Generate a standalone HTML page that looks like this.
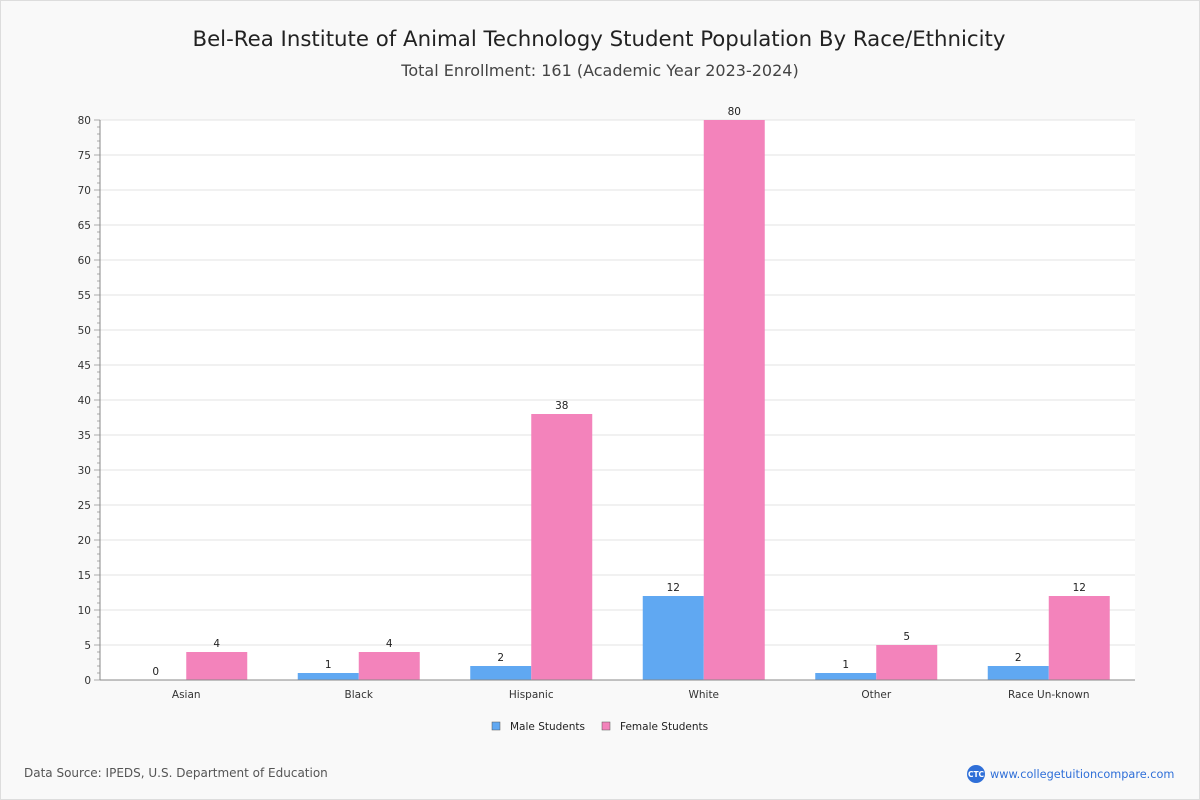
<!DOCTYPE html>
<html><head><meta charset="utf-8"><style>
body{margin:0;background:#f9f9f9;font-family:"DejaVu Sans","Liberation Sans",sans-serif;}
#wrap{position:relative;width:1198px;height:798px;border:1px solid #ddd;background:#f9f9f9;}
</style></head><body>
<div id="wrap">
<svg id="chart" width="1200" height="800" style="position:absolute;left:-1px;top:-1px">
<text x="599" y="46" text-anchor="middle" font-size="21.3" fill="#222">Bel-Rea Institute of Animal Technology Student Population By Race/Ethnicity</text>
<text x="600" y="76" text-anchor="middle" font-size="16" fill="#444">Total Enrollment: 161 (Academic Year 2023-2024)</text>
<rect x="100" y="120" width="1035" height="560" fill="#fff"/>
<g id="grid"></g><g id="bars"></g><g id="axes"></g>
<g>
<rect x="492" y="722" width="8" height="8" fill="#60a8f2" stroke="#555" stroke-width="0.5"/>
<text x="510" y="730" font-size="10.5" fill="#222">Male Students</text>
<rect x="602" y="722" width="8" height="8" fill="#f383bb" stroke="#555" stroke-width="0.5"/>
<text x="620" y="730" font-size="10.5" fill="#222">Female Students</text>
</g>
<text x="24" y="777" font-size="12" fill="#555">Data Source: IPEDS, U.S. Department of Education</text>
<circle cx="976" cy="774" r="9" fill="#2f6fd8"/>
<text x="976" y="777" text-anchor="middle" font-size="7.5" fill="#fff" font-weight="bold">CTC</text>
<text x="990" y="778" font-size="11.3" fill="#2f6fd8">www.collegetuitioncompare.com</text>
</svg>
</div>
<script>
const categories=["Asian","Black","Hispanic","White","Other","Race Un-known"];
const maleValues=[0,1,2,12,1,2];
const femaleValues=[4,4,38,80,5,12];
const yTicks=[0,5,10,15,20,25,30,35,40,45,50,55,60,65,70,75,80];
const NS="http://www.w3.org/2000/svg";
const X0=100,X1=1135,Y0=680,Y1=120,YMAX=80;
const y=v=>Y0-(v/YMAX)*(Y0-Y1);
const band=(X1-X0)/categories.length;
const bw=61;
function mk(t,a,p){const e=document.createElementNS(NS,t);for(const k in a)e.setAttribute(k,a[k]);p.appendChild(e);return e;}
const grid=document.getElementById('grid'),bars=document.getElementById('bars'),axes=document.getElementById('axes');
yTicks.forEach(t=>{
  if(t>0){const g=mk('line',{x1:X0,x2:X1,y1:y(t),y2:y(t),stroke:'#e3e3e3'},grid);
  
  }
  const l=mk('text',{x:91,y:y(t)+4,'text-anchor':'end','font-size':10.5,fill:'#333'},axes);l.textContent=t;
  
  
});
for(let v=0;v<=YMAX;v++){
  const tk=mk('line',{x1:v%5?97:94,x2:X0,y1:y(v),y2:y(v),stroke:'#aaa'},axes);
  
  
}
categories.forEach((c,i)=>{
  const cx=X0+band*(i+0.5);
  [[maleValues[i],cx-bw,'#60a8f2','male'],[femaleValues[i],cx,'#f383bb','female']].forEach(([v,x,col,s])=>{
    const r=mk('rect',{x:x,y:y(v),width:bw,height:Y0-y(v),fill:col},bars);
    
    
    const t=mk('text',{x:x+bw/2,y:y(v)-5,'text-anchor':'middle','font-size':10.5,fill:'#222'},bars);t.textContent=v;
    
    
  });
  const l=mk('text',{x:cx,y:698,'text-anchor':'middle','font-size':10.5,fill:'#333'},axes);l.textContent=c;
  
  
});
const xa=mk('line',{x1:X0,x2:X1,y1:Y0,y2:Y0,stroke:'#888'},axes);


const ya=mk('line',{x1:X0,x2:X0,y1:Y1,y2:Y0,stroke:'#888'},axes);


</script>
</body></html>
